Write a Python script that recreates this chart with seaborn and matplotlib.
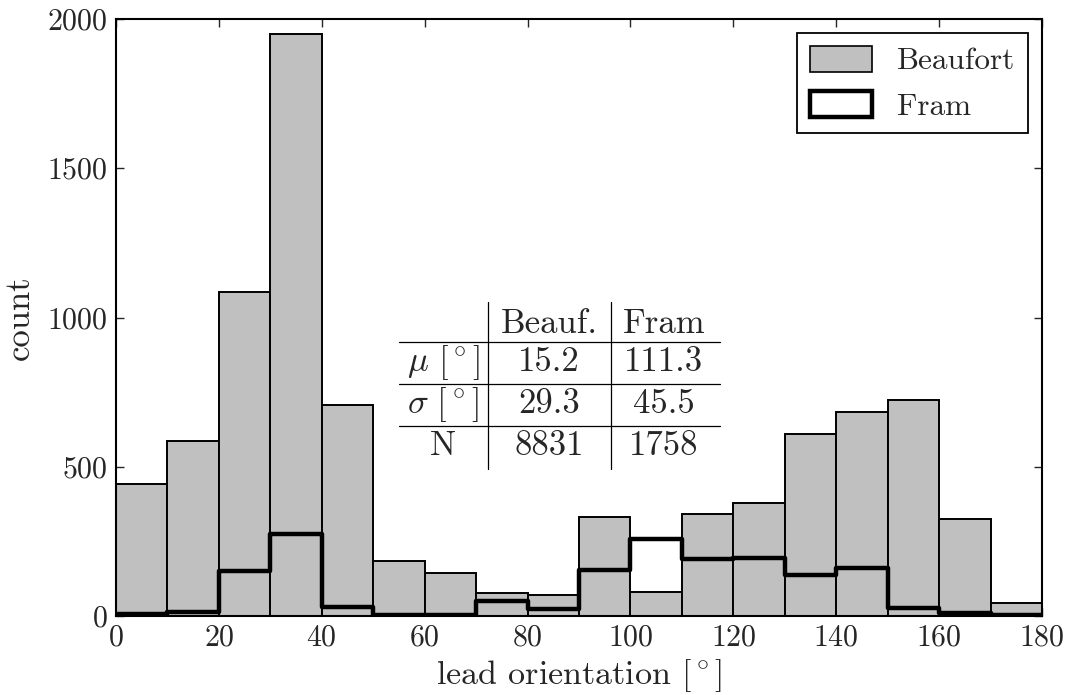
import numpy as np
import pandas as pd
import matplotlib
matplotlib.use("Agg")
import matplotlib.pyplot as plt
import seaborn as sns
from matplotlib.patches import Patch

# ---- data ----
bin_edges = list(range(0, 190, 10))
bin_centers = [5, 15, 25, 35, 45, 55, 65, 75, 85, 95, 105, 115, 125, 135, 145, 155, 165, 175]
beaufort_counts = [441, 587, 1085, 1950, 708, 183, 144, 76, 69, 333, 81, 342, 378, 611, 683, 725, 326, 43]
fram_counts = [7, 13, 151, 275, 31, 3, 5, 51, 23, 155, 257, 190, 193, 138, 160, 27, 9, 5]

table_cols = ["Beauf.", "Fram"]
table_rows = [r"$\mu\ [^\circ]$", r"$\sigma\ [^\circ]$", "N"]
table_vals = [["15.2", "111.3"], ["29.3", "45.5"], ["8831", "1758"]]

x_ticks = list(range(0, 181, 20))
y_ticks = [0, 500, 1000, 1500, 2000]

sns.set_style("ticks")
plt.rcParams.update({
    "font.family": "serif",
    "font.serif": ["cmr10"],
    "mathtext.fontset": "cm",
    "axes.formatter.use_mathtext": True,
    "axes.unicode_minus": False,
    "xtick.direction": "in",
    "ytick.direction": "in",
    "xtick.top": True,
    "ytick.right": True,
    "xtick.major.size": 6,
    "ytick.major.size": 6,
    "xtick.major.width": 1,
    "ytick.major.width": 1,
    "axes.linewidth": 1.5,
    "axes.edgecolor": "black",
})

df_b = pd.DataFrame({"x": bin_centers, "w": beaufort_counts})
df_f = pd.DataFrame({"x": bin_centers, "w": fram_counts})

fig = plt.figure(figsize=(10.66, 6.95), dpi=100)
ax = fig.add_axes([116/1066, 1 - 616/695, (1042-116)/1066, (616-19)/695])

sns.histplot(data=df_b, x="x", weights="w", bins=bin_edges, element="bars",
             color="#c0c0c0", edgecolor="black", linewidth=1.4, alpha=1.0, ax=ax)
sns.histplot(data=df_f, x="x", weights="w", bins=bin_edges, element="step",
             fill=False, color="black", linewidth=3.2, ax=ax)

ax.set_xlim(0, 180)
ax.set_ylim(0, 2000)
ax.set_xticks(x_ticks)
ax.set_yticks(y_ticks)
ax.tick_params(labelsize=21.5, pad=6)
ax.set_xlabel(r"lead orientation $[^\circ]$", fontsize=24.5, labelpad=4)
ax.set_ylabel("count", fontsize=25, labelpad=8)
ax.grid(False)

handles = [Patch(facecolor="#c0c0c0", edgecolor="black", linewidth=1.2, label="Beaufort"),
           Patch(facecolor="white", edgecolor="black", linewidth=3.2, label="Fram")]
leg = ax.legend(handles=handles, loc="upper right", fontsize=22.5, frameon=True,
                fancybox=False, edgecolor="black", framealpha=1,
                borderaxespad=0.45, handlelength=2.0, handleheight=0.9,
                handletextpad=0.8, borderpad=0.4, labelspacing=0.5)
leg.get_frame().set_linewidth(1.3)

# ---- table drawn with text and lines (axes-pixel helpers) ----
def ax_x(px):
    return (px - 116) / (1042 - 116)

def ax_y(py):
    return (616 - py) / (616 - 19)

tf = ax.transAxes
col_x = [ax_x(443), ax_x(549), ax_x(664)]
row_y = [ax_y(324), ax_y(362), ax_y(404), ax_y(446)]
fs_tab = 25
for j, c in enumerate(table_cols):
    ax.text(col_x[j + 1], row_y[0], c, transform=tf, ha="center", va="center", fontsize=fs_tab)
for i, r in enumerate(table_rows):
    ax.text(col_x[0], row_y[i + 1], r, transform=tf, ha="center", va="center", fontsize=fs_tab)
    for j, v in enumerate(table_vals[i]):
        ax.text(col_x[j + 1], row_y[i + 1], v, transform=tf, ha="center", va="center", fontsize=fs_tab)

for py in [342, 384, 426]:
    ax.plot([ax_x(399), ax_x(720)], [ax_y(py), ax_y(py)], transform=tf, color="black", lw=0.9)
for px in [488, 611]:
    ax.plot([ax_x(px), ax_x(px)], [ax_y(302), ax_y(469)], transform=tf, color="black", lw=0.9)

fig.savefig("out.png", dpi=100)
